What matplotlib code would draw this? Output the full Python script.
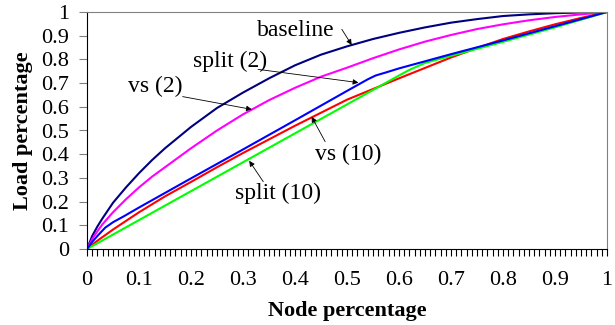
import matplotlib
matplotlib.use("Agg")
import matplotlib.pyplot as plt
from matplotlib.ticker import MultipleLocator, FuncFormatter

plt.rcParams['font.family'] = ['Liberation Serif', 'DejaVu Serif']

# baseline (navy)
base_x = [0, 0.01, 0.02, 0.03, 0.05, 0.075, 0.1, 0.125, 0.15, 0.2, 0.25, 0.3,
          0.35, 0.4, 0.45, 0.5, 0.55, 0.6, 0.65, 0.7, 0.75, 0.8, 0.85, 0.9, 0.95, 1]
base_y = [0, 0.055, 0.095, 0.13, 0.195, 0.26, 0.32, 0.375, 0.425, 0.515, 0.595, 0.66,
          0.72, 0.775, 0.82, 0.855, 0.886, 0.912, 0.935, 0.955, 0.97, 0.983, 0.99, 0.995, 0.998, 1]

# vs (2) (magenta)
vs2_x = [0, 0.01, 0.02, 0.03, 0.05, 0.075, 0.1, 0.125, 0.15, 0.2, 0.25, 0.3,
         0.35, 0.4, 0.45, 0.5, 0.55, 0.6, 0.65, 0.7, 0.75, 0.8, 0.85, 0.9, 0.95, 1]
vs2_y = [0, 0.042, 0.075, 0.105, 0.155, 0.21, 0.26, 0.305, 0.345, 0.425, 0.5, 0.568,
         0.628, 0.68, 0.727, 0.765, 0.805, 0.842, 0.875, 0.903, 0.928, 0.948, 0.965, 0.979, 0.99, 1]

# split (2) (blue)
sp2_x = [0, 0.01, 0.02, 0.035, 0.05, 0.07, 0.1, 0.2, 0.3, 0.4, 0.5, 0.54, 0.555,
         0.575, 0.6, 0.7, 0.8, 0.9, 1]
sp2_y = [0, 0.03, 0.055, 0.09, 0.113, 0.137, 0.175, 0.298, 0.42, 0.543, 0.667, 0.716, 0.732,
         0.745, 0.762, 0.822, 0.88, 0.94, 1]

# vs (10) (red)
vs10_x = [0, 0.01, 0.02, 0.05, 0.1, 0.15, 0.2, 0.25, 0.3, 0.4, 0.5, 0.6, 0.7, 0.75,
          0.8, 0.85, 0.9, 0.95, 1]
vs10_y = [0, 0.018, 0.035, 0.082, 0.155, 0.222, 0.283, 0.345, 0.405, 0.52, 0.63, 0.72, 0.808,
          0.848, 0.886, 0.918, 0.948, 0.975, 1]

# split (10) (green)
sp10_x = [0, 0.1, 0.2, 0.3, 0.4, 0.5, 0.6, 0.62, 0.65, 0.68, 0.7, 0.8, 0.9, 1]
sp10_y = [0, 0.122, 0.244, 0.366, 0.488, 0.61, 0.732, 0.756, 0.785, 0.803, 0.815, 0.874, 0.935, 1]

fig = plt.figure(figsize=(6.15, 3.25), dpi=100)
ax = fig.add_axes([87 / 615, 1 - 249 / 325, 520 / 615, 237 / 325])

ax.plot(base_x, base_y, color='#000080', lw=1.5)
ax.plot(vs2_x, vs2_y, color='#FF00FF', lw=1.5)
ax.plot(vs10_x, vs10_y, color='#FF0000', lw=1.5)
ax.plot(sp10_x, sp10_y, color='#00FF00', lw=1.5)
ax.plot(sp2_x, sp2_y, color='#0000FF', lw=1.5)

ax.set_xlim(0, 1)
ax.set_ylim(0, 1)

fmt = FuncFormatter(lambda v, p: '%g' % round(v, 2))
ax.xaxis.set_major_locator(MultipleLocator(0.1))
ax.xaxis.set_minor_locator(MultipleLocator(0.01))
ax.yaxis.set_major_locator(MultipleLocator(0.1))
ax.xaxis.set_major_formatter(fmt)
ax.yaxis.set_major_formatter(fmt)
ax.tick_params(axis='x', which='both', direction='out', length=5, width=0.8,
               color='black', labelsize=16, pad=11)
ax.tick_params(axis='y', which='major', direction='out', length=6, width=0.8,
               color='#808080', labelsize=16, pad=7)

for s in ['top', 'right']:
    ax.spines[s].set_color('#808080')
ax.spines['left'].set_color('black')
ax.spines['bottom'].set_color('black')

ax.set_xlabel('Node percentage', fontsize=16, fontweight='bold', labelpad=8)
ax.set_ylabel('Load percentage', fontsize=16, fontweight='bold', labelpad=6)

arrow = dict(arrowstyle='-|>', color='black', lw=0.6, mutation_scale=8, shrinkA=0, shrinkB=0)
ann = [
    ('baseline', (0.402, 0.924), (0.49, 0.927), (0.509, 0.861)),
    ('split (2)', (0.275, 0.790), (0.329, 0.758), (0.522, 0.702)),
    ('vs (2)', (0.132, 0.684), (0.184, 0.643), (0.317, 0.589)),
    ('vs (10)', (0.502, 0.397), (0.458, 0.453), (0.432, 0.558)),
    ('split (10)', (0.368, 0.236), (0.339, 0.284), (0.312, 0.372)),
]
for label, tpos, start, end in ann:
    ax.text(tpos[0], tpos[1], label, fontsize=17, ha='center', va='center')
    ax.annotate('', xy=end, xytext=start, arrowprops=arrow)

fig.savefig('out.png', dpi=100)
